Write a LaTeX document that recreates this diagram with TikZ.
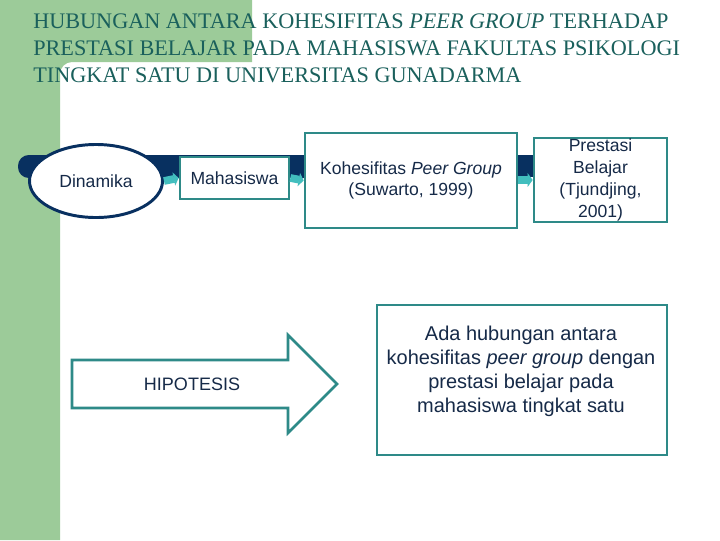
\documentclass[tikz,border=0pt]{standalone}
\usepackage{fontspec}
\setmainfont{Liberation Serif}
\setsansfont{Liberation Sans}
\usetikzlibrary{shapes, shapes.geometric, arrows.meta, positioning, calc}

\definecolor{slidegreen}{RGB}{156,203,153}
\definecolor{titleteal}{RGB}{26,96,92}
\definecolor{boxteal}{RGB}{46,138,136}
\definecolor{arrowcyan}{RGB}{66,190,190}
\definecolor{barnavy}{RGB}{8,48,96}
\definecolor{textnavy}{RGB}{22,42,72}

\begin{document}
\begin{tikzpicture}[
            x=0.025cm, y=-0.025cm,
            titletext/.style={
				anchor=base west,
				inner sep=0pt,
				font=\fontsize{15.8}{19}\selectfont,
				text=titleteal
			},
            ovalnode/.style={
				ellipse,
				minimum width=3.325cm,
				minimum height=1.825cm,
				draw=barnavy,
				line width=2.1pt,
				fill=white,
				text=textnavy,
				font=\sffamily\fontsize{12.5}{15.5}\selectfont
			},
            boxnode/.style={
				rectangle,
				align=center,
				draw=boxteal,
				line width=1.9pt,
				fill=white,
				inner sep=0pt,
				text=textnavy,
				font=\sffamily\fontsize{12.5}{15.5}\selectfont
			},
            plaintext/.style={
				align=center,
				inner sep=0pt,
				text=textnavy,
				font=\sffamily\fontsize{12.8}{17}\selectfont
			},
            linkarrow/.style={
				arrowcyan,
				line width=5.5pt,
				-{Triangle[width=9.5pt,length=3.5pt]}
			},
            bigarrow/.style={
				draw=boxteal,
				line width=1.9pt,
				fill=white
			}
        ]

        % background
        \useasboundingbox (0,0) rectangle (720,540);
        \fill[white] (0,0) rectangle (720,540);
        \fill[slidegreen] (0,0) -- (252,0) -- (252,62) [rounded corners=0.3cm] -- (60,62) [sharp corners] -- (60,540) -- (0,540) -- cycle;

        % title
        \node (title1) [titletext] at (33,28) {HUBUNGAN ANTARA KOHESIFITAS \textit{PEER GROUP} TERHADAP};
        \node (title2) [titletext] at (33,55) {PRESTASI BELAJAR PADA MAHASISWA FAKULTAS PSIKOLOGI};
        \node (title3) [titletext] at (33,82) {TINGKAT SATU DI UNIVERSITAS GUNADARMA};

        % navy bars
        \fill[barnavy, rounded corners=0.27cm] (18,155) rectangle (330,178);
        \fill[barnavy] (510,155) rectangle (540,177);

        % nodes
        \node (dinamika) [ovalnode] at (96,181) {Dinamika};
        \node (mahasiswa) [boxnode, minimum width=2.725cm, minimum height=1.05cm] at (234.5,178) {Mahasiswa};
        \node (kohesi) [boxnode, minimum width=5.3cm, minimum height=2.375cm] at (411,180.5) {Kohesifitas \textit{Peer Group}\\(Suwarto, 1999)};
        \node (prestasi) [boxnode, minimum width=3.325cm, minimum height=2.1cm, text width=3.2cm] at (600.5,180) {Prestasi\\Belajar\\(Tjundjing,\\2001)};

        \draw [linkarrow] (dinamika.east) -- (mahasiswa.west);
        \draw [linkarrow] (mahasiswa.east) -- (kohesi.west);
        \draw [linkarrow] (kohesi.east |- prestasi.west) -- (prestasi.west);

        % hipotesis
        \draw [bigarrow] (72,360) -- (288,360) -- (288,335) -- (337,384) -- (288,433) -- (288,408) -- (72,408) -- cycle;
        \node (hipotesis) [plaintext] at (192,384) {HIPOTESIS};

        \node (hipobox) [boxnode, minimum width=7.25cm, minimum height=3.75cm] at (522,380) {};
        \node (hipotext) [plaintext, font=\sffamily\fontsize{14.2}{17}\selectfont] at (521,371) {Ada hubungan antara\\kohesifitas \textit{peer group} dengan\\prestasi belajar pada\\mahasiswa tingkat satu};

        \end{tikzpicture}
\end{document}
